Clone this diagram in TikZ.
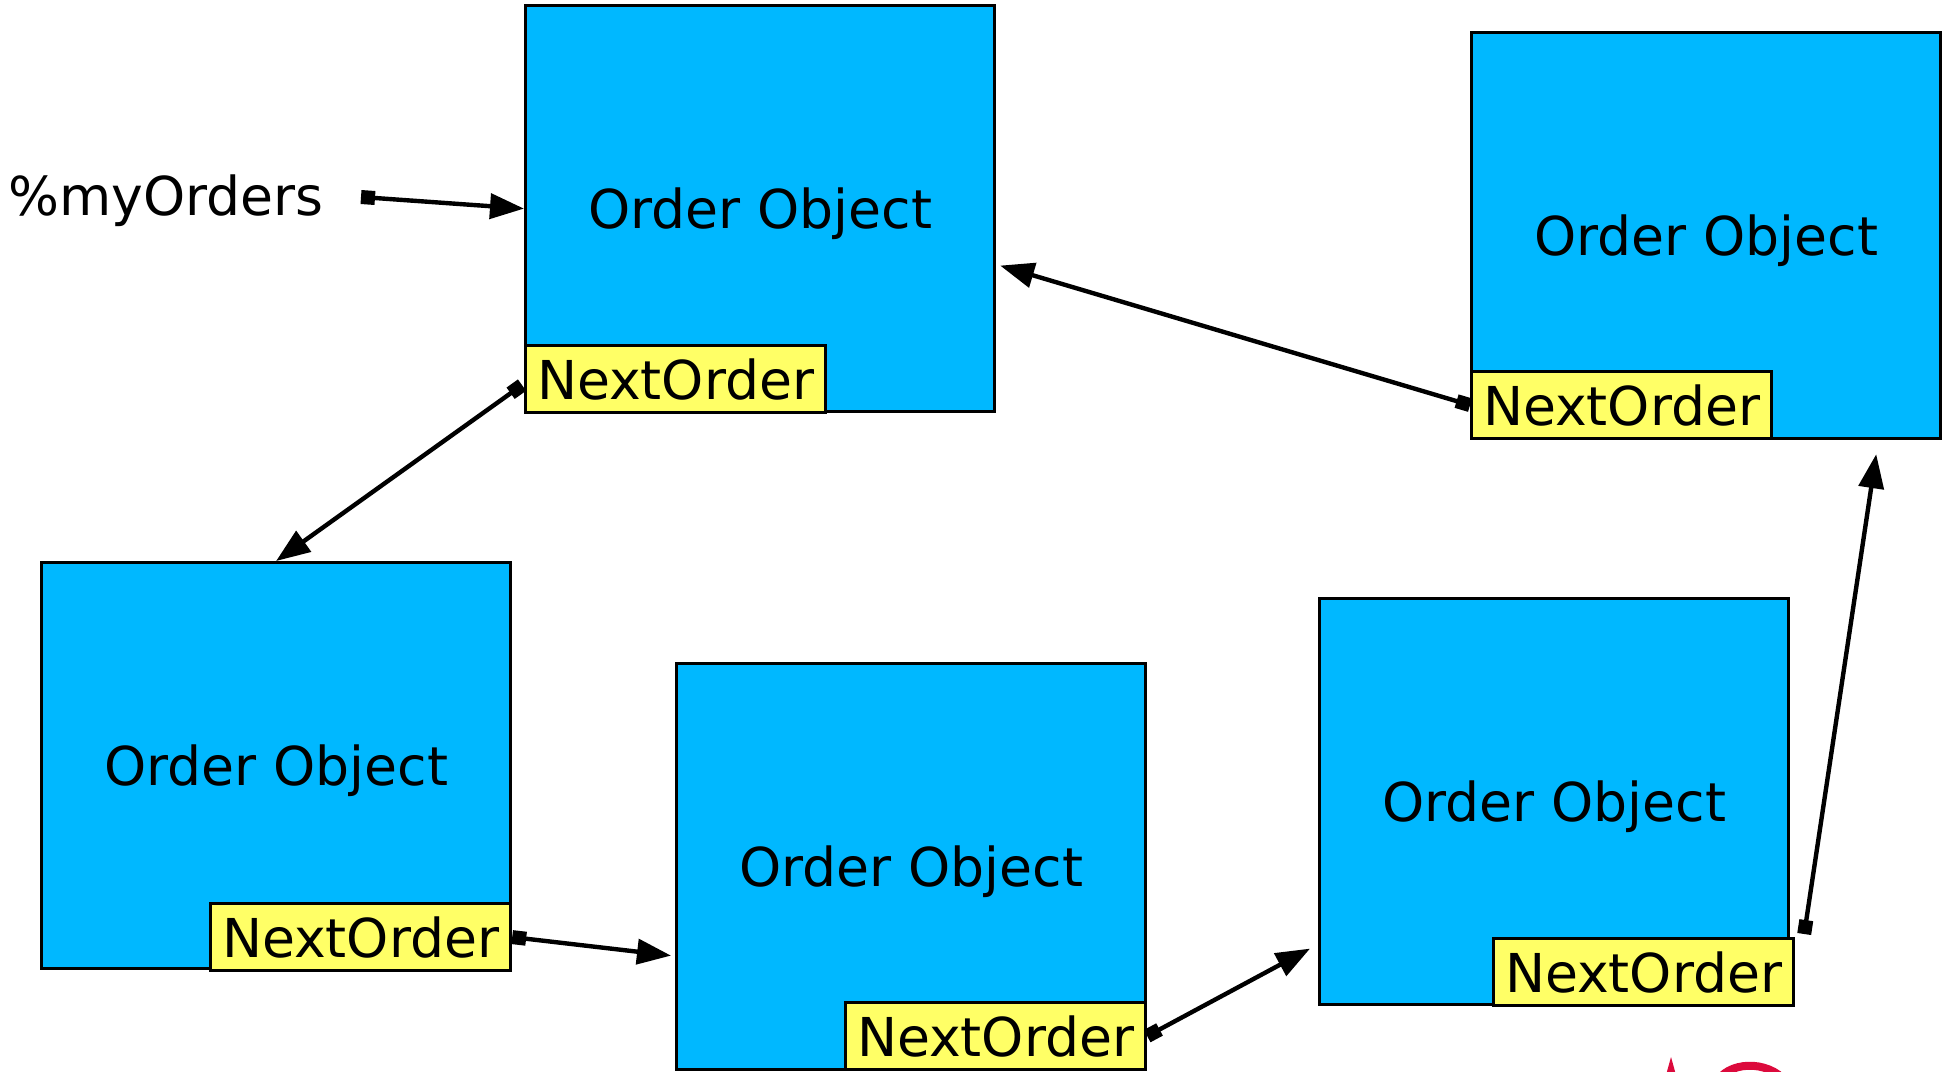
\documentclass[tikz,border=0pt]{standalone}
\usepackage{fontspec}
\setmainfont{DejaVu Sans}
\usetikzlibrary{arrows.meta,calc}
\definecolor{objblue}{RGB}{0,184,255}
\definecolor{ptryellow}{RGB}{255,255,102}
\definecolor{logored}{RGB}{220,10,60}

\begin{document}
\begin{tikzpicture}[x=0.5pt,y=-0.5pt,
  txt/.style={font=\fontsize{26.8}{30}\selectfont, text=black},
  objbox/.style={txt, draw=black, line width=1.6pt, fill=objblue,
    minimum width=234.5pt, minimum height=203pt, inner sep=0pt, anchor=north west},
  ptrbox/.style={txt, draw=black, line width=1.6pt, fill=ptryellow,
    minimum width=150pt, minimum height=33.5pt, inner sep=0pt},
  link/.style={line width=2.2pt,
    {Square[length=7pt,width=7pt]}-{Triangle[length=17pt,width=12.5pt]}}
]
\useasboundingbox (0,0) rectangle (1948,1071);

% order objects
\newcommand\objtext{\raisebox{-2.5pt}[\height][\depth]{Order Object}}
\node[objbox] (b1) at (524,4)   {\objtext};
\node[objbox] (b2) at (1470,31) {\objtext};
\node[objbox] (b3) at (40,561)  {\objtext};
\node[objbox] (b4) at (675,662) {\objtext};
\node[objbox] (b5) at (1318,597){\objtext};

% next-order pointer fields
\node[ptrbox, anchor=south west] (n1) at ($(b1.south west)+(0,1)$) {NextOrder};
\node[ptrbox, anchor=south west] (n2) at ($(b2.south west)+(0,0)$) {NextOrder};
\node[ptrbox, anchor=south east] (n3) at ($(b3.south east)+(0,2)$) {NextOrder};
\node[ptrbox, anchor=south east] (n4) at ($(b4.south east)+(0,0)$) {NextOrder};
\node[ptrbox, anchor=south east] (n5) at ($(b5.south east)+(5,1)$) {NextOrder};

% hash variable
\node[txt, anchor=west, inner sep=0pt] (lbl) at (8,201) {\%myOrders};
\coordinate (p0) at (361,197);

% links
\draw[link] (p0) -- (b1.west);
\draw[link] ($(n1.west)+(-2,6)$) -- (b3.north);
\draw[link] (n2.west) -- ($(b1.east)+(4,57)$);
\draw[link] (n3.east) -- ($(b4.west)+(-4,89)$);
\draw[link] (n4.east) -- ($(b5.west)+(-8,147)$);
\draw[link] ($(n5.north east)+(9,-3)$) -- ($(b2.south east)+(-66,14)$);

% logo fragment at the lower edge
\begin{scope}
  \clip (0,0) rectangle (1948,1071);
  \fill[logored] (1666,1075) -- (1671,1057) -- (1676,1075) -- cycle;
  \draw[logored, line width=4pt] (1716,1084) .. controls (1726,1061) and (1768,1059) .. (1786,1082);
\end{scope}
\end{tikzpicture}
\end{document}
